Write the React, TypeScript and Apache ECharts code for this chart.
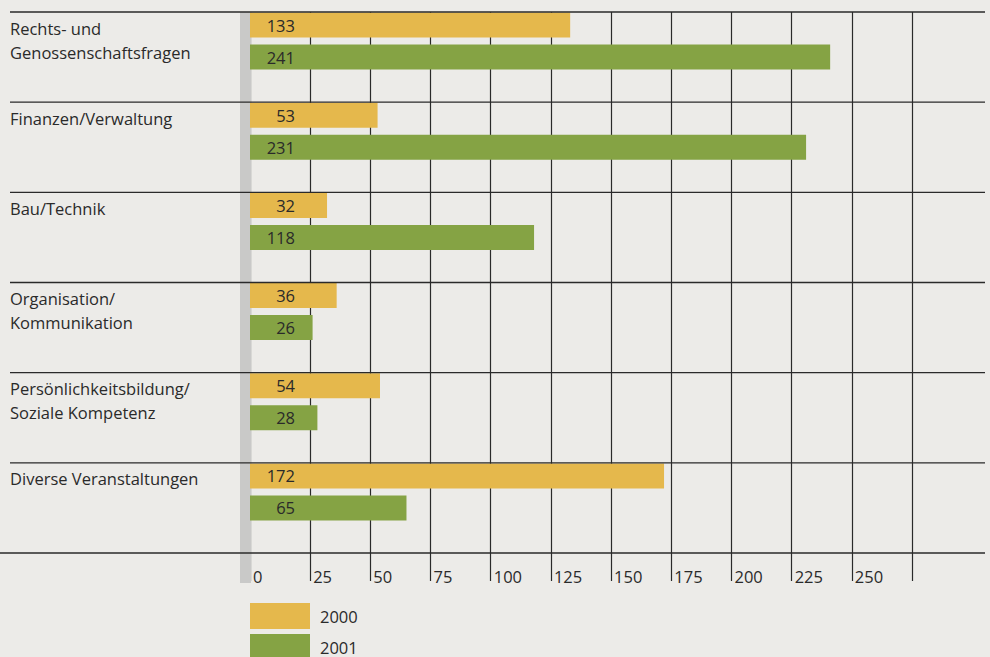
import React, { useEffect, useRef } from "react";
import * as echarts from "echarts";

const categories = [
  "Rechts- und\nGenossenschaftsfragen",
  "Finanzen/Verwaltung",
  "Bau/Technik",
  "Organisation/\nKommunikation",
  "Persönlichkeitsbildung/\nSoziale Kompetenz",
  "Diverse Veranstaltungen",
];
const values2000 = [133, 53, 32, 36, 54, 172];
const values2001 = [241, 231, 118, 26, 28, 65];
const xTicks = [0, 25, 50, 75, 100, 125, 150, 175, 200, 225, 250, 275];
const seriesNames = ["2000", "2001"];

const FONT = "Open Sans";
const FS = 16.5;
const YELLOW = "#E5B84C";
const GREEN = "#85A344";
const LINE = "#2a2a2a";
const TEXT = "#2a2a2a";

export default function App() {
  const ref = useRef<HTMLDivElement>(null);
  useEffect(() => {
    if (!ref.current) return;
    const chart = echarts.init(ref.current, null, { renderer: "svg" });
    const labelFmt = (v: string) => {
      const lines = v.split("\n");
      const parts = lines.map((l) => `{a|${l}}`);
      const pad = lines.length === 2 ? "{p2| }" : "{p1| }";
      return parts.join("\n") + "\n" + pad;
    };
    const legendBase = {
      orient: "vertical",
      left: 250,
      itemWidth: 60,
      itemHeight: 26,
      icon: "rect",
      padding: 0,
      textStyle: { fontSize: FS, color: TEXT, fontFamily: FONT, padding: [0, 0, 0, 5] },
    };
    const barLabel = {
      show: true,
      position: [45, "50%"],
      align: "right",
      verticalAlign: "middle",
      fontSize: FS,
      color: TEXT,
      fontFamily: FONT,
    };
    chart.setOption({
      animation: false,
      backgroundColor: "#ECEBE8",
      textStyle: { fontFamily: FONT },
      grid: { left: 250, right: 78, top: 12, bottom: 104, containLabel: false },
      legend: [
        { ...legendBase, data: [seriesNames[0]], top: 603 },
        { ...legendBase, data: [seriesNames[1]], top: 634 },
      ],
      xAxis: {
        type: "value",
        min: xTicks[0],
        max: xTicks[xTicks.length - 1],
        interval: 25,
        axisLine: { show: false },
        axisTick: { show: true, length: 28, lineStyle: { color: LINE, width: 1.2 } },
        splitLine: { show: true, lineStyle: { color: LINE, width: 1.2 } },
        axisLabel: {
          formatter: (v: number) => (v === 275 ? "" : String(v)),
          align: "left",
          verticalAlign: "top",
          margin: 15,
          padding: [0, 0, 0, 3],
          fontSize: FS,
          color: TEXT,
          fontFamily: FONT,
        },
      },
      yAxis: {
        type: "category",
        inverse: true,
        data: categories,
        axisLine: { show: false },
        axisTick: { show: false },
        splitLine: { show: false },
        axisLabel: {
          align: "left",
          verticalAlign: "middle",
          margin: 240,
          color: TEXT,
          fontSize: FS,
          fontFamily: FONT,
          formatter: labelFmt,
          rich: {
            a: { fontSize: FS, lineHeight: 24, color: TEXT, fontFamily: FONT },
            p2: { fontSize: FS, lineHeight: 34 },
            p1: { fontSize: FS, lineHeight: 58 },
          },
        },
      },
      series: [
        {
          name: seriesNames[0],
          type: "bar",
          data: values2000,
          barWidth: 25,
          barGap: "28%",
          itemStyle: { color: YELLOW },
          z: 20,
          label: barLabel,
        },
        {
          name: seriesNames[1],
          type: "bar",
          data: values2001,
          barWidth: 25,
          barGap: "28%",
          itemStyle: { color: GREEN },
          z: 20,
          label: barLabel,
        },
        {
          name: "spacer",
          type: "bar",
          data: categories.map(() => null),
          barWidth: 25,
          barGap: "28%",
          itemStyle: { color: "transparent" },
        },
      ],
    });

    const c0 = chart.convertToPixel({ yAxisIndex: 0 }, 0) as number;
    const c1 = chart.convertToPixel({ yAxisIndex: 0 }, 1) as number;
    const band = c1 - c0;
    const x0 = chart.convertToPixel({ xAxisIndex: 0 }, 0) as number;
    const graphics: any[] = [];
    for (let k = 0; k <= categories.length; k++) {
      const y = c0 - band / 2 + k * band;
      graphics.push({
        type: "line",
        z: 30,
        shape: { x1: k === categories.length ? 0 : 10, y1: y, x2: 985, y2: y },
        style: { stroke: LINE, lineWidth: 1.4 },
      });
    }
    const top = c0 - band / 2;
    const bottom = c0 - band / 2 + categories.length * band;
    graphics.push({
      type: "rect",
      z: 10,
      shape: { x: x0 - 10, y: top, width: 11, height: bottom - top + 30 },
      style: { fill: "#C9C9C8" },
    });
    chart.setOption({ graphic: graphics });

    return () => chart.dispose();
  }, []);
  return <div ref={ref} style={{ position: "fixed", left: 0, top: 0, width: 990, height: 657 }} />;
}
